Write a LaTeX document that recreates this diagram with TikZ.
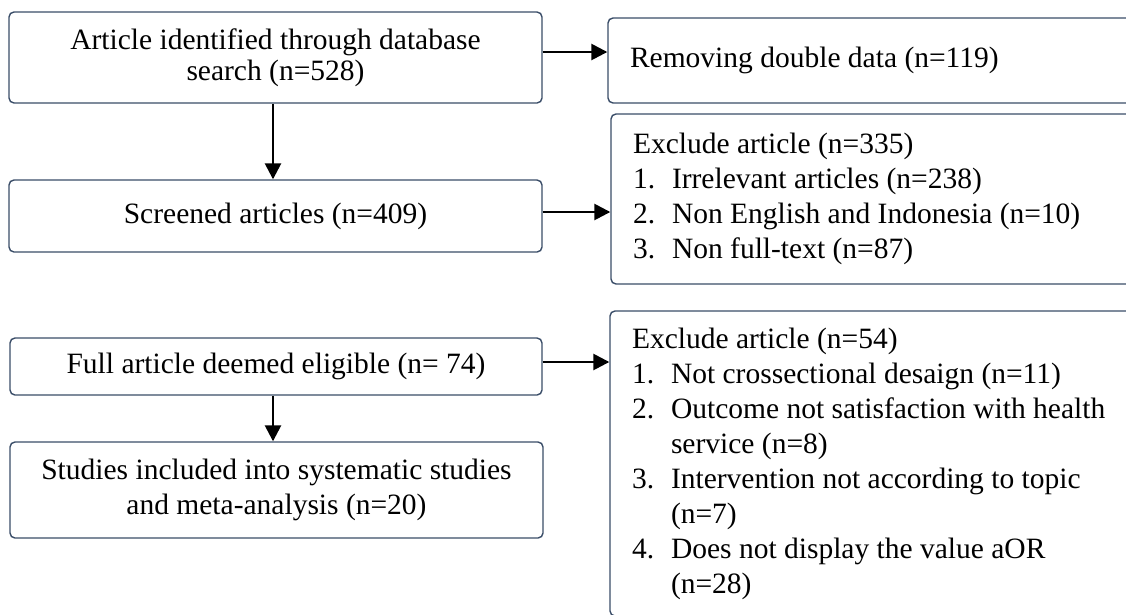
\documentclass[tikz,border=0pt]{standalone}
\usepackage{fontspec}
\setmainfont{Liberation Serif}
\usetikzlibrary{arrows.meta,calc}
\definecolor{bordercol}{HTML}{3A4D68}
\newcommand{\fsz}{\fontsize{29.5}{35}\selectfont}
\newcommand{\fszb}{\fontsize{29.5}{31}\selectfont}
\newcommand{\itm}[1]{\makebox[39pt][l]{#1}}
\tikzset{
  box/.style={draw=bordercol, line width=1.4pt, rounded corners=5pt, fill=white,
    align=center, font=\fsz, inner sep=0pt},
  rbox/.style={box, align=flush left, inner xsep=22pt, inner ysep=0pt},
  arr/.style={draw=black, line width=2.6pt, -{Triangle[width=16pt,length=16pt]}},
}
\begin{document}
\begin{tikzpicture}[x=1pt,y=-1pt]
\useasboundingbox (0,0) rectangle (1126,614);
\clip (0,0) rectangle (1126,614);
% left column
\node[box, font=\fszb, minimum width=533, minimum height=91] (b1) at (275.5,57.5)
  {Article identified through database\\search (n=528)};
\node[box, minimum width=533, minimum height=72] (b2) at (275.5,216)
  {Screened articles (n=409)};
\node[box, minimum width=532, minimum height=57] (b3) at (276,366.5)
  {Full article deemed eligible (n= 74)};
\node[box, minimum width=533, minimum height=96] (b4) at (276.5,490)
  {Studies included into systematic studies\\and meta-analysis (n=20)};
% right column
\node[rbox, text width=488, minimum height=85] (r1) at (874,60.5)
  {Removing double data (n=119)};
\node[rbox, text width=485, minimum height=170] (r2) at (875.5,199)
  {Exclude article (n=335)\\
   \itm{1.}Irrelevant articles (n=238)\\
   \itm{2.}Non English and Indonesia (n=10)\\
   \itm{3.}Non full-text (n=87)};
\node[rbox, text width=486, minimum height=305] (r3) at (875,463.5)
  {Exclude article (n=54)\\
   \itm{1.}Not crossectional desaign (n=11)\\
   \itm{2.}Outcome not satisfaction with health\\
   \itm{}service (n=8)\\
   \itm{3.}Intervention not according to topic\\
   \itm{}(n=7)\\
   \itm{4.}Does not display the value aOR\\
   \itm{}(n=28)};
% connectors
\coordinate (a1s) at ($(b1.south)+(-2.5,0)$);
\draw[arr] (a1s) -- (a1s |- b2.north);
\coordinate (a2s) at ($(b1.east)+(0,-5.5)$);
\draw[arr] (a2s) -- (a2s -| r1.west);
\coordinate (a3s) at ($(b2.east)+(0,-4)$);
\draw[arr] (a3s) -- (a3s -| r2.west);
\coordinate (a4s) at ($(b3.east)+(0,-4.5)$);
\draw[arr] (a4s) -- (a4s -| r3.west);
\coordinate (a5s) at ($(b3.south)+(-3,0)$);
\draw[arr] (a5s) -- (a5s |- b4.north);
\end{tikzpicture}
\end{document}
